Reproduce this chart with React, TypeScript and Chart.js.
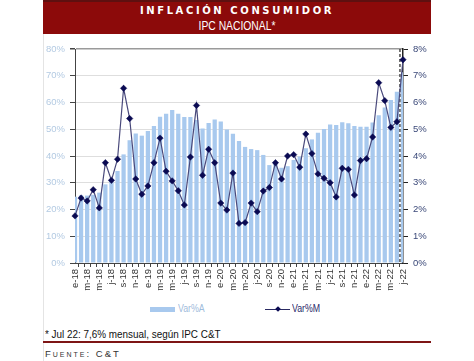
import React, { useEffect, useRef } from "react";
import { Chart, registerables } from "chart.js";

Chart.register(...registerables);

const categories = [
  "e-18","f-18","m-18","a-18","m-18","j-18","j-18","a-18","s-18","o-18","n-18","d-18",
  "e-19","f-19","m-19","a-19","m-19","j-19","j-19","a-19","s-19","o-19","n-19","d-19",
  "e-20","f-20","m-20","a-20","m-20","j-20","j-20","a-20","s-20","o-20","n-20","d-20",
  "e-21","f-21","m-21","a-21","m-21","j-21","j-21","a-21","s-21","o-21","n-21","d-21",
  "e-22","f-22","m-22","a-22","m-22","j-22","j-22",
];

// Var%A (annual, left axis, %)
const varAnual = [
  24.8, 25.3, 25.2, 25.5, 26.3, 29.4, 31.2, 34.4, 40.6, 45.9, 48.4, 47.6,
  49.3, 51.2, 54.7, 55.8, 57.2, 55.8, 54.6, 54.6, 53.5, 50.3, 52.3, 53.6,
  52.9, 49.9, 48.3, 45.6, 43.4, 42.6, 42.2, 40.4, 36.6, 37.0, 35.6, 36.2,
  38.5, 39.8, 42.9, 46.2, 48.7, 50.1, 51.8, 51.6, 52.6, 52.2, 51.2, 50.9,
  50.9, 52.5, 55.2, 58.1, 60.9, 64.0, 71.3,
];

// Var%M (monthly, right axis, %)
const varMensual = [
  1.76, 2.43, 2.32, 2.74, 2.06, 3.75, 3.09, 3.88, 6.53, 5.40, 3.14, 2.57,
  2.88, 3.75, 4.67, 3.43, 3.07, 2.70, 2.17, 3.96, 5.89, 3.28, 4.25, 3.75,
  2.24, 1.98, 3.36, 1.48, 1.51, 2.24, 1.92, 2.69, 2.82, 3.75, 3.14, 4.00,
  4.05, 3.58, 4.82, 4.09, 3.33, 3.17, 3.00, 2.47, 3.54, 3.50, 2.54, 3.83,
  3.90, 4.71, 6.74, 6.07, 5.07, 5.28, 7.60,
];

const leftTicks = [0, 10, 20, 30, 40, 50, 60, 70, 80];
const rightTicks = [0, 1, 2, 3, 4, 5, 6, 7, 8];
const lastOfficialIndex = 53;

const sans = '"Liberation Sans", Arial, sans-serif';

export default function App() {
  const ref = useRef<HTMLCanvasElement | null>(null);

  useEffect(() => {
    if (!ref.current) return;
    Chart.defaults.font.family = sans;

    const dashedPlugin = {
      id: "dashedSplit",
      beforeDatasetsDraw(chart: any) {
        const x = chart.scales.x;
        const area = chart.chartArea;
        const px = (x.getPixelForValue(lastOfficialIndex) + x.getPixelForValue(lastOfficialIndex + 1)) / 2;
        const ctx = chart.ctx;
        ctx.save();
        ctx.strokeStyle = "#222";
        ctx.lineWidth = 1.2;
        ctx.setLineDash([3, 2]);
        ctx.beginPath();
        ctx.moveTo(px, area.top);
        ctx.lineTo(px, area.bottom);
        ctx.stroke();
        ctx.restore();
      },
    };

    const chart = new Chart(ref.current, {
      type: "bar",
      data: {
        labels: categories,
        datasets: [
          {
            type: "line",
            label: "Var%M",
            data: varMensual,
            yAxisID: "y1",
            borderColor: "#4a4a7c",
            borderWidth: 1.2,
            pointStyle: "rectRot",
            pointRadius: 3.2,
            pointBackgroundColor: "#0a0a52",
            pointBorderColor: "#0a0a52",
            pointBorderWidth: 0.5,
            tension: 0,
            order: 0,
          } as any,
          {
            type: "bar",
            label: "Var%A",
            data: varAnual,
            yAxisID: "y",
            backgroundColor: "#a8c9ee",
            barPercentage: 0.7,
            categoryPercentage: 1,
            order: 1,
          },
        ],
      },
      options: {
        animation: false,
        responsive: false,
        maintainAspectRatio: false,
        layout: { padding: { top: 13, left: 0, right: 0, bottom: 0 } },
        plugins: { legend: { display: false }, tooltip: { enabled: false } },
        scales: {
          x: {
            offset: false,
            grid: {
              display: true,
              drawOnChartArea: false,
              drawTicks: true,
              tickLength: 4,
              color: "#444",
            },
            border: { display: true, color: "#444" },
            ticks: {
              autoSkip: false,
              maxRotation: 90,
              minRotation: 90,
              padding: 2,
              color: "#333",
              font: { size: 9.5 },
              callback: (_v: any, i: number) => (i % 2 === 0 ? categories[i] : ""),
            },
            afterFit: (s: any) => {
              s.height = 35;
            },
          },
          y: {
            position: "left",
            min: 0,
            max: 80,
            afterBuildTicks: (s: any) => {
              s.ticks = leftTicks.map((v) => ({ value: v }));
            },
            grid: {
              color: (c: any) => (c.tick && c.tick.value === 80 ? "#9a9a9a" : "#dedede"),
              lineWidth: (c: any) => (c.tick && c.tick.value === 80 ? 1.5 : 1),
              tickColor: "#444",
              tickLength: 5,
            },
            border: { display: true, color: "#444" },
            ticks: {
              padding: 5,
              color: "#b3cae2",
              font: { size: 9.5 },
              callback: (v: any) => v + "%",
            },
            afterFit: (s: any) => {
              s.width = 32;
            },
          },
          y1: {
            position: "right",
            min: 0,
            max: 8,
            afterBuildTicks: (s: any) => {
              s.ticks = rightTicks.map((v) => ({ value: v }));
            },
            grid: {
              drawOnChartArea: false,
              tickColor: "#222",
              tickLength: 5,
            },
            border: { display: true, color: "#222", width: 1.5 },
            ticks: {
              padding: 5,
              color: "#3a4878",
              font: { size: 9.5 },
              callback: (v: any) => v + "%",
            },
            afterFit: (s: any) => {
              s.width = 28;
            },
          },
        },
      },
      plugins: [dashedPlugin],
    });
    return () => chart.destroy();
  }, []);

  const narrowText = (
    text: string,
    left: number,
    top: number,
    size: number,
    color: string,
    scale: number
  ) => (
    <div
      style={{
        position: "absolute",
        left,
        top,
        fontFamily: sans,
        fontSize: size,
        lineHeight: `${size + 2}px`,
        color,
        whiteSpace: "nowrap",
        transform: `scaleX(${scale})`,
        transformOrigin: "left center",
      }}
    >
      {text}
    </div>
  );

  return (
    <div
      style={{
        position: "absolute",
        left: 0,
        top: 0,
        width: 474,
        height: 361,
        overflow: "hidden",
        background: "#fff",
        fontFamily: sans,
      }}
    >
      <div
        style={{
          position: "absolute",
          left: 43,
          top: 0,
          width: 388,
          height: 34,
          background: "#8c0a0a",
          borderTop: "2px solid #5e1010",
          boxSizing: "border-box",
        }}
      >
        <div
          style={{
            position: "absolute",
            left: 0,
            right: 0,
            top: 3,
            textAlign: "center",
            color: "#fff",
            fontFamily: '"DejaVu Sans", sans-serif',
            fontWeight: 700,
            fontSize: 10,
            letterSpacing: 2.6,
            lineHeight: "12px",
          }}
        >
          INFLACIÓN CONSUMIDOR
        </div>
        <div
          style={{
            position: "absolute",
            left: 0,
            right: 0,
            top: 17,
            textAlign: "center",
            color: "#fff",
            fontFamily: sans,
            fontSize: 12,
            lineHeight: "14px",
            transform: "scaleX(0.86)",
            transformOrigin: "center center",
          }}
        >
          IPC NACIONAL*
        </div>
      </div>
      <div
        style={{
          position: "absolute",
          left: 43,
          top: 34,
          width: 1,
          height: 327,
          background: "#e4e4e4",
        }}
      />
      <canvas
        ref={ref}
        width={388}
        height={262}
        style={{ position: "absolute", left: 43, top: 36, width: 388, height: 262 }}
      />
      <div style={{ position: "absolute", left: 150, top: 307, width: 25, height: 5, background: "#a8c9ee" }} />
      {narrowText("Var%A", 178, 302, 11, "#9fbcdc", 0.8)}
      <div style={{ position: "absolute", left: 265, top: 309, width: 25, height: 1, background: "#2a2a62" }} />
      <div
        style={{
          position: "absolute",
          left: 276,
          top: 307,
          width: 4,
          height: 4,
          background: "#0a0a52",
          transform: "rotate(45deg)",
        }}
      />
      {narrowText("Var%M", 292, 302, 11, "#2a2a6a", 0.8)}
      {narrowText("* Jul 22: 7,6% mensual, según IPC C&T", 45, 328, 11, "#111", 0.9)}
      <div style={{ position: "absolute", left: 43, top: 341, width: 388, height: 2, background: "#7e1515" }} />
      <div
        style={{
          position: "absolute",
          left: 45,
          top: 348,
          fontSize: 9.5,
          lineHeight: "11px",
          fontVariant: "small-caps",
          letterSpacing: 2,
          color: "#333",
        }}
      >
        Fuente: C&amp;T
      </div>
    </div>
  );
}
